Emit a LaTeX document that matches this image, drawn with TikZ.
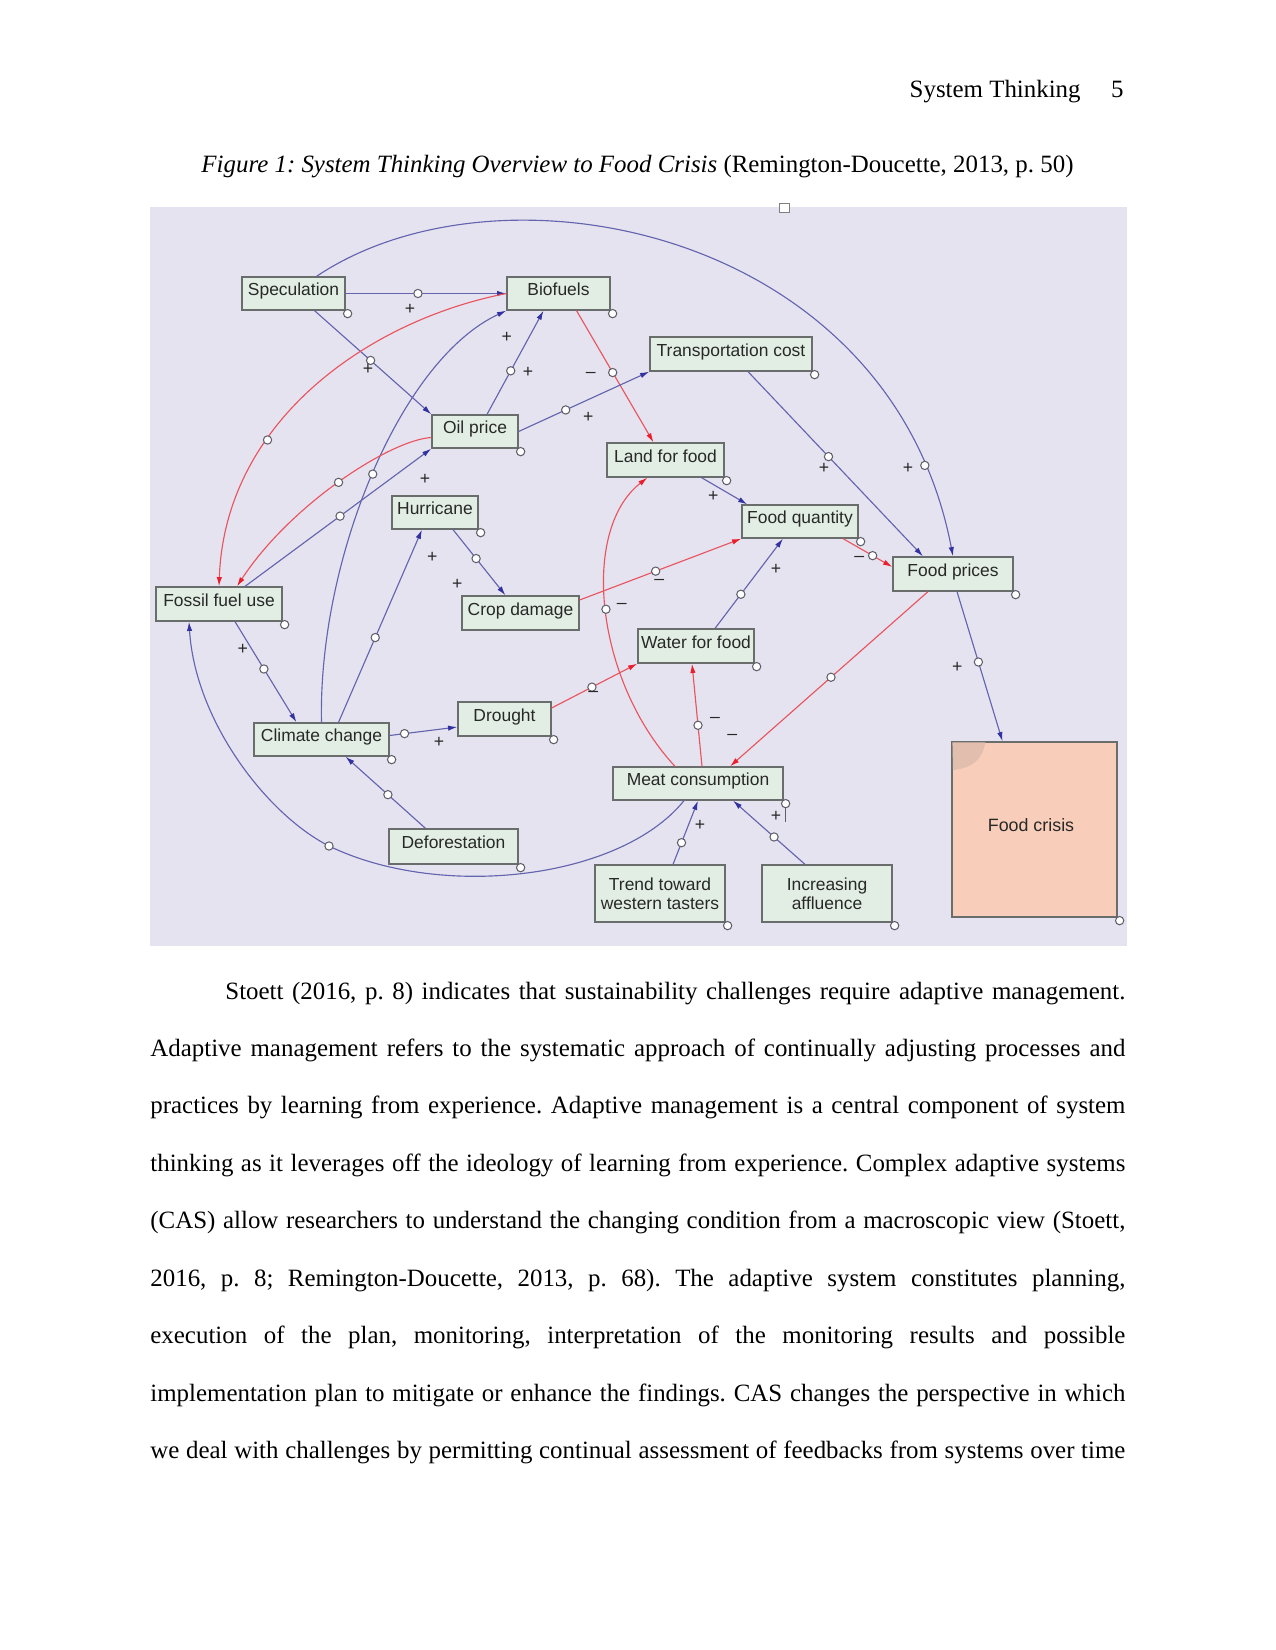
\documentclass[tikz,border=0pt]{standalone}
\usepackage{fontspec}
\setmainfont{Liberation Serif}
\newfontfamily\arialf{Liberation Sans}
\usetikzlibrary{arrows.meta,calc}
\frenchspacing
\def\PX{0.4818pt}
\definecolor{bgc}{RGB}{230,227,240}
\definecolor{boxfill}{RGB}{226,238,228}
\definecolor{boxline}{RGB}{105,110,108}
\definecolor{blueline}{RGB}{100,100,175}
\definecolor{bluehead}{RGB}{50,50,160}
\definecolor{redline}{RGB}{232,85,95}
\definecolor{redhead}{RGB}{235,30,45}
\definecolor{crisisfill}{RGB}{248,206,186}
\definecolor{curlc}{RGB}{226,190,175}
\definecolor{txtc}{RGB}{40,40,40}
\definecolor{circc}{RGB}{95,95,105}
\newcommand\bline[1]{\makebox[469.75pt][s]{#1}}
\tikzset{
  box/.style={draw=boxline, fill=boxfill, line width=0.6pt, inner sep=0pt, text=txtc,
    font=\arialf\fontsize{8.4}{10}\selectfont},
  one/.style={text height=6pt, text depth=4pt},
  bl/.style={draw=blueline, line width=0.55pt, -{Latex[length=4.5pt,width=2.6pt,color=bluehead]}},
  rd/.style={draw=redline, line width=0.55pt, -{Latex[length=4.5pt,width=2.6pt,color=redhead]}},
  circ/.style={circle, draw=circc, fill=white, line width=0.5pt, inner sep=0pt, minimum size=4pt},
  sgn/.style={inner sep=0pt, text=txtc, font=\arialf\fontsize{8.5}{10}\selectfont},
  body/.style={inner sep=0pt, anchor=base west, font=\fontsize{12}{14}\selectfont}
}
\begin{document}
\begin{tikzpicture}[x=0.4818pt,y=-0.4818pt]
\useasboundingbox (0,0) rectangle (1275,1650);
\fill[white] (0,0) rectangle (1275,1650);

% header and caption
\node[inner sep=0pt, anchor=base east, font=\fontsize{12}{14}\selectfont] (hd1) at (1081,98) {System Thinking};
\node[inner sep=0pt, anchor=base east, font=\fontsize{12}{14}\selectfont] (hd2) at (1124,98) {5};
\node[inner sep=0pt, anchor=base, font=\fontsize{12}{14}\selectfont] (cap) at (637.5,173)
  {\itshape Figure 1: System Thinking Overview to Food Crisis\upshape{} (Remington-Doucette, 2013, p. 50)};

% diagram background
\fill[bgc] (150,207) rectangle (1127,946);
\draw[gray, fill=white, line width=0.4pt] (779,203) rectangle (789,212);

% boxes
\node[box,one,minimum width=103*\PX,minimum height=33*\PX] (spec) at (293.5,293.5) {Speculation};
\node[box,one,minimum width=103*\PX,minimum height=33*\PX] (bio) at (558.5,293.5) {Biofuels};
\node[box,one,minimum width=86*\PX,minimum height=33*\PX] (oil) at (475,431.5) {Oil price};
\node[box,one,minimum width=162*\PX,minimum height=34*\PX] (trans) at (731,354) {Transportation cost};
\node[box,one,minimum width=117*\PX,minimum height=34*\PX] (land) at (665.5,460) {Land for food};
\node[box,one,minimum width=116*\PX,minimum height=33*\PX] (fq) at (800,521.5) {Food quantity};
\node[box,one,minimum width=120*\PX,minimum height=34*\PX] (fp) at (953,574) {Food prices};
\node[box,one,minimum width=116*\PX,minimum height=34*\PX] (water) at (696,646) {Water for food};
\node[box,one,minimum width=86*\PX,minimum height=33*\PX] (hur) at (435,512.5) {Hurricane};
\node[box,one,minimum width=117*\PX,minimum height=34*\PX] (crop) at (520.5,613) {Crop damage};
\node[box,one,minimum width=126*\PX,minimum height=34*\PX] (fossil) at (219,604) {Fossil fuel use};
\node[box,one,minimum width=93*\PX,minimum height=34*\PX] (drought) at (504.5,719) {Drought};
\node[box,one,minimum width=135*\PX,minimum height=33*\PX] (climate) at (321.5,739.5) {Climate change};
\node[box,one,minimum width=170*\PX,minimum height=33*\PX] (meat) at (698,783.5) {Meat consumption};
\node[box,one,minimum width=129*\PX,minimum height=35*\PX] (defor) at (453.5,846.5) {Deforestation};
\node[box,align=center,minimum width=130*\PX,minimum height=57*\PX] (trend) at (660,893.5) {Trend toward\\[-1pt]western tasters};
\node[box,align=center,minimum width=130*\PX,minimum height=57*\PX] (incr) at (827,893.5) {Increasing\\[-1pt]affluence};
\node[box,fill=crisisfill,minimum width=165*\PX,minimum height=175*\PX] (crisis) at (1034.5,829.5) {};
\fill[curlc] ([xshift=0.5pt,yshift=-0.5pt]crisis.north west) -- ++(33,0) .. controls (982,760) and (972,768) .. (953,770) -- cycle;
\node[inner sep=0pt, text=txtc, font=\arialf\fontsize{8.6}{10}\selectfont] (crisist) at (1031,825) {Food crisis};

% handles
\foreach \n in {spec,bio,oil,trans,land,fq,fp,water,hur,fossil,drought,climate,meat,defor,trend,incr,crisis}
  \node[circ] (h\n) at ([xshift=2*\PX,yshift=-3*\PX]\n.south east) {};
\draw[circc, line width=0.5pt] (hmeat.south) -- ++(0,14);

% connectors
\draw[bl] (spec.east) -- (bio.west) node[circ,pos=.45](c1){};
\draw[bl] ([xshift=21*\PX]spec.south) -- (oil.north west) node[circ,pos=.48](c2){};
\draw[bl] ([xshift=23*\PX]spec.north) .. controls (500,153) and (890,228) .. (fp.north) node[circ,pos=.9](c3){};
\draw[rd] ([xshift=18*\PX]bio.south) -- ([xshift=-12*\PX]land.north) node[circ,pos=.47](c4){};
\draw[bl] ([xshift=12*\PX]oil.north) -- ([xshift=-15*\PX]bio.south) node[circ,pos=.42](c5){};
\draw[bl] (oil.east) -- (trans.south west) node[circ,pos=.36](c6){};
\draw[bl] ([xshift=17*\PX]trans.south) -- ([xshift=-30*\PX]fp.north) node[circ,pos=.46](c7){};
\draw[bl] ([xshift=36*\PX]land.south) -- ([xshift=6*\PX]fq.north west);
\draw[rd] ([xshift=43*\PX]fq.south) -- ([yshift=7*\PX]fp.west) node[circ,pos=.6](c9){};
\draw[bl] ([xshift=4*\PX]fp.south) -- ([xshift=-32*\PX]crisis.north) node[circ,pos=.47](c10){};
\draw[rd] ([xshift=-25*\PX]fp.south) -- ([xshift=32*\PX]meat.north) node[circ,pos=.49](c11){};
\draw[rd] ([xshift=4*\PX]meat.north) -- ([xshift=-4*\PX]water.south) node[circ,pos=.4](c12){};
\draw[rd] ([xshift=-23*\PX]meat.north) .. controls (595,680) and (580,530) .. ([xshift=-18*\PX]land.south) node[circ,pos=.5](c13){};
\draw[rd] ([yshift=13*\PX]crop.east) -- (fq.south west) node[circ,pos=.47](c14){};
\draw[bl] ([xshift=19*\PX]water.north) -- ([xshift=-17*\PX]fq.south) node[circ,pos=.38](c15){};
\draw[rd] ([yshift=11*\PX]drought.east) -- (water.south west) node[circ,pos=.47](c16){};
\draw[bl] ([yshift=4*\PX]climate.east) -- ([yshift=-8*\PX]drought.west) node[circ,pos=.22](c17){};
\draw[bl] ([xshift=18*\PX]hur.south) -- ([xshift=-15*\PX]crop.north) node[circ,pos=.44](c18){};
\draw[bl] ([xshift=17*\PX]climate.north) -- ([xshift=-13*\PX]hur.south) node[circ,pos=.44](c19){};
\draw[bl] (climate.north) .. controls (318,560) and (400,360) .. (bio.south west) node[circ,pos=.5](c20){};
\draw[bl] ([xshift=26*\PX]fossil.north) -- (oil.south west) node[circ,pos=.51](c21){};
\draw[rd] ([yshift=-6*\PX]oil.west) .. controls (390,440) and (290,505) .. ([xshift=18*\PX]fossil.north) node[circ,pos=.5](c22){};
\draw[rd] (bio.west) .. controls (370,320) and (225,420) .. (fossil.north) node[circ,pos=.66](c23){};
\draw[bl] ([xshift=16*\PX]fossil.south) -- ([xshift=-25*\PX]climate.north) node[circ,pos=.47](c24){};
\draw[bl] ([xshift=-28*\PX]defor.north) -- ([xshift=24*\PX]climate.south) node[circ,pos=.47](c25){};
\draw[bl] ([xshift=-14*\PX]meat.south) .. controls (620,880) and (440,900) .. (329,846) node[circ](c26){}
   .. controls (266,814) and (195,720) .. ([xshift=-30*\PX]fossil.south);
\draw[bl] ([xshift=13*\PX]trend.north) -- (meat.south) node[circ,pos=.34](c27){};
\draw[bl] ([xshift=-22*\PX]incr.north) -- ([xshift=35*\PX]meat.south) node[circ,pos=.43](c28){};

% signs
\node[sgn] (s1) at (410,309) {+};
\node[sgn] (s2) at (368,369) {+};
\node[sgn] (s3) at (908,468) {+};
\node[sgn] (s4) at (590.7,375) {–};
\node[sgn] (s5) at (528,372) {+};
\node[sgn] (s6) at (506.7,337) {+};
\node[sgn] (s7) at (588.3,417) {+};
\node[sgn] (s8) at (824,468) {+};
\node[sgn] (s9) at (713.3,496) {+};
\node[sgn] (s10) at (859.3,559.3) {–};
\node[sgn] (s11) at (957.3,667) {+};
\node[sgn] (s12) at (732.3,737) {–};
\node[sgn] (s13) at (715,720) {–};
\node[sgn] (s14) at (621.7,606) {–};
\node[sgn] (s15) at (659.3,582) {–};
\node[sgn] (s16) at (776,569) {+};
\node[sgn] (s17) at (593.3,694) {–};
\node[sgn] (s18) at (439,742) {+};
\node[sgn] (s19) at (457.3,584) {+};
\node[sgn] (s20) at (432.3,557) {+};
\node[sgn] (s21) at (425,479) {+};
\node[sgn] (s22) at (242.7,649) {+};
\node[sgn] (s23) at (700,825) {+};
\node[sgn] (s24) at (776,816) {+};

% body text
\node[body] (p1) at (225,999) {\makebox[433.6pt][s]{Stoett (2016, p. 8) indicates that sustainability challenges require adaptive management.}};
\node[body] (p2) at (150,1056.5) {\bline{Adaptive management refers to the systematic approach of continually adjusting processes and}};
\node[body] (p3) at (150,1113.9) {\bline{practices by learning from experience. Adaptive management is a central component of system}};
\node[body] (p4) at (150,1171.4) {\bline{thinking as it leverages off the ideology of learning from experience. Complex adaptive systems}};
\node[body] (p5) at (150,1228.8) {\bline{(CAS) allow researchers to understand the changing condition from a macroscopic view (Stoett,}};
\node[body] (p6) at (150,1286.3) {\bline{2016, p. 8; Remington-Doucette, 2013, p. 68). The adaptive system constitutes planning,}};
\node[body] (p7) at (150,1343.7) {\bline{execution of the plan, monitoring, interpretation of the monitoring results and possible}};
\node[body] (p8) at (150,1401.2) {\bline{implementation plan to mitigate or enhance the findings. CAS changes the perspective in which}};
\node[body] (p9) at (150,1458.6) {\bline{we deal with challenges by permitting continual assessment of feedbacks from systems over time}};
\end{tikzpicture}
\end{document}
